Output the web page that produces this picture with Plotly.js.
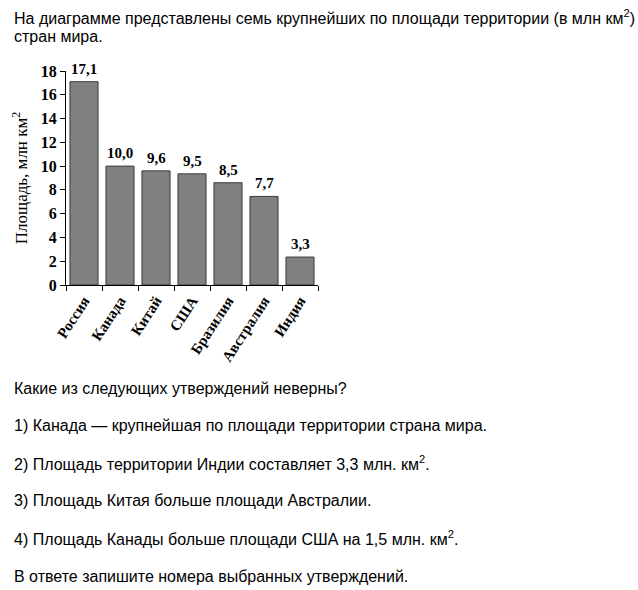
<!DOCTYPE html>
<html>
<head>
<meta charset="utf-8">
<script src="https://cdn.plot.ly/plotly-3.0.1.min.js"></script>
<style>
  html, body { margin: 0; padding: 0; background: #fff; }
  #chart { width: 638px; height: 590px; }
</style>
</head>
<body>
<div id="chart"></div>
<script>
// countries and bar heights as drawn
const countries = ['Россия', 'Канада', 'Китай', 'США', 'Бразилия', 'Австралия', 'Индия'];
const areas = [17.1, 10.0, 9.6, 9.35, 8.6, 7.45, 2.35];
// printed labels above bars
const areaLabels = ['17,1', '10,0', '9,6', '9,5', '8,5', '7,7', '3,3'];
const yTicks = [0, 2, 4, 6, 8, 10, 12, 14, 16, 18];

const questionLines = [
    'Какие из следующих утверждений неверны?',
    '1) Канада — крупнейшая по площади территории страна мира.',
    '2) Площадь территории Индии составляет 3,3 млн. км<sup>2</sup>.',
    '3) Площадь Китая больше площади Австралии.',
    '4) Площадь Канады больше площади США на 1,5 млн. км<sup>2</sup>.',
    'В ответе запишите номера выбранных утверждений.'
];

// plot area in pixels
const plotLeft = 66, plotRight = 318, plotTop = 71, plotBottom = 285;
const W = 638, H = 590;
const px = x => (x - plotLeft) / (plotRight - plotLeft);
const py = y => (plotBottom - y) / (plotBottom - plotTop);

const sansFont = { family: 'Liberation Sans, Arial, sans-serif', size: 16, color: '#000' };
const serifBold = { family: 'Liberation Serif, Times New Roman, serif', size: 16, color: '#000', weight: 'bold' };

const bars = {
    x: countries,
    y: areas,
    type: 'bar',
    marker: {
        color: '#808080',
        line: { color: '#3a3a3a', width: 1 }
    },
    hoverinfo: 'x+y'
};

const annotations = [];

// value labels
countries.forEach((c, i) => {
    annotations.push({
        x: c, y: areas[i], xref: 'x', yref: 'y',
        text: areaLabels[i], showarrow: false,
        yanchor: 'bottom', yshift: 3,
        font: { family: serifBold.family, size: 15, color: '#000', weight: 'bold' }
    });
});

// intro text
annotations.push({
    xref: 'paper', yref: 'paper', x: px(12), y: py(17),
    xanchor: 'left', yanchor: 'middle', showarrow: false,
    text: 'На диаграмме представлены семь крупнейших по площади территории (в млн км<sup>2</sup>)',
    font: sansFont
});
annotations.push({
    xref: 'paper', yref: 'paper', x: px(12), y: py(36),
    xanchor: 'left', yanchor: 'middle', showarrow: false,
    text: 'стран мира.',
    font: sansFont
});

questionLines.forEach((t, i) => {
    annotations.push({
        xref: 'paper', yref: 'paper', x: px(12), y: py(388 + i * 37.6),
        xanchor: 'left', yanchor: 'middle', showarrow: false,
        text: t, font: sansFont
    });
});

const layout = {
    width: W,
    height: H,
    margin: { l: plotLeft, r: W - plotRight, t: plotTop, b: H - plotBottom },
    paper_bgcolor: '#fff',
    plot_bgcolor: '#fff',
    bargap: 0.22,
    showlegend: false,
    xaxis: {
        type: 'category',
        showline: true,
        linecolor: '#000',
        linewidth: 1,
        ticks: 'outside',
        tickson: 'boundaries',
        ticklen: 5,
        tickcolor: '#000',
        tickangle: -57,
        tickfont: { family: serifBold.family, size: 15, color: '#000', weight: 'bold' },
        showgrid: false,
        zeroline: false
    },
    yaxis: {
        range: [0, 18],
        tickvals: yTicks,
        showline: true,
        linecolor: '#000',
        linewidth: 1,
        ticks: 'outside',
        ticklen: 5,
        tickcolor: '#000',
        tickfont: serifBold,
        showgrid: false,
        zeroline: false,
        title: {
            text: 'Площадь, млн км<sup>2</sup>',
            font: { family: serifBold.family, size: 17, color: '#000' },
            standoff: 8
        }
    },
    // short inner half of the crossing y ticks
    yaxis2: {
        overlaying: 'y',
        anchor: 'x',
        side: 'left',
        range: [0, 18],
        tickvals: yTicks,
        ticks: 'inside',
        ticklen: 2,
        tickcolor: '#000',
        showticklabels: false,
        showline: false,
        showgrid: false,
        zeroline: false
    },
    annotations: annotations
};

Plotly.newPlot('chart', [bars], layout, { displayModeBar: false, staticPlot: true });
</script>
</body>
</html>
